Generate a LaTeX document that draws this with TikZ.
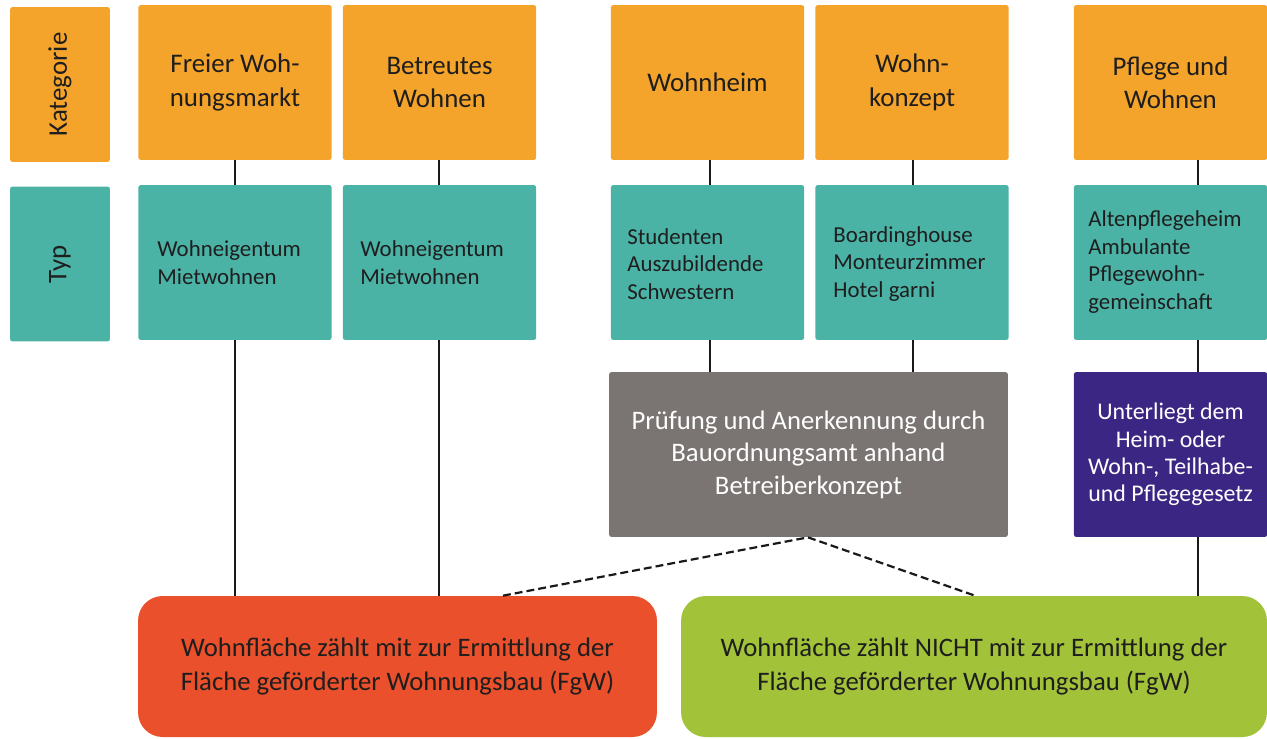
\documentclass[tikz,border=0pt]{standalone}
\usepackage{fontspec}
\setmainfont{Carlito}
\definecolor{korange}{HTML}{F4A32B}
\definecolor{kteal}{HTML}{4BB2A6}
\definecolor{kgray}{HTML}{7A7572}
\definecolor{kpurple}{HTML}{3B2783}
\definecolor{kred}{HTML}{E9502B}
\definecolor{kgreen}{HTML}{A2C23A}
\definecolor{ktext}{HTML}{1E1E1E}
\begin{document}
\begin{tikzpicture}[x=0.02cm,y=-0.02cm,
  base/.style={rectangle, rounded corners=1.5pt, inner sep=0pt, align=center, text=ktext},
  catbox/.style={base, fill=korange, minimum width=3.87cm, minimum height=3.1cm, font=\fontsize{15.3}{19}\selectfont},
  typbox/.style={base, fill=kteal, minimum width=3.87cm, minimum height=3.1cm},
  typtext/.style={align=left, font=\fontsize{13}{15.8}\selectfont, text=ktext, inner sep=0pt, anchor=west},
  sidebox/.style={base, minimum width=2.0cm, minimum height=3.1cm, font=\fontsize{15.3}{19}\selectfont},
  grbox/.style={base, fill=kgray, text=white, minimum width=7.98cm, minimum height=3.3cm, font=\fontsize{15.2}{18.5}\selectfont},
  pubox/.style={base, fill=kpurple, text=white, minimum width=3.87cm, minimum height=3.3cm, font=\fontsize{13.6}{15.6}\selectfont},
  resbox/.style={base, rounded corners=14pt, minimum height=2.82cm, font=\fontsize{15.2}{19.3}\selectfont},
  conn/.style={draw=black!90, line width=1pt},
  dconn/.style={draw=black!90, line width=1.25pt, dash pattern=on 4.5pt off 2.3pt}
]
\useasboundingbox (0,0) rectangle (1267,738);
% side labels
\node[sidebox, fill=korange] (kat) at (60,84.5) {\rotatebox{90}{Kategorie}};
\node[sidebox, fill=kteal] (typ) at (60,264) {\rotatebox{90}{Typ}};
% category row
\node[catbox] (c1) at (235,82.5) {Freier Woh-\\nungsmarkt};
\node[catbox] (c2) at (439.5,82.5) {Betreutes\\Wohnen};
\node[catbox] (c3) at (707.5,82.5) {Wohnheim};
\node[catbox] (c4) at (912,82.5) {Wohn-\\konzept};
\node[catbox] (c5) at (1170.5,82.5) {Pflege und\\Wohnen};
% type row
\node[typbox] (t1) at (235,262.5) {};
\node[typbox] (t2) at (439.5,262.5) {};
\node[typbox] (t3) at (707.5,262.5) {};
\node[typbox] (t4) at (912,262.5) {};
\node[typbox] (t5) at (1170.5,262.5) {};
\node[typtext] (tt1) at (157,263) {Wohneigentum\\Mietwohnen};
\node[typtext] (tt2) at (360,263) {Wohneigentum\\Mietwohnen};
\node[typtext] (tt3) at (627,264) {Studenten\\Auszubildende\\Schwestern};
\node[typtext] (tt4) at (833,264) {Boardinghouse\\Monteurzimmer\\Hotel garni};
\node[typtext] (tt5) at (1088,262) {Altenpflegeheim\\Ambulante\\Pflegewohn-\\gemeinschaft};
% third row
\node[grbox] (g) at (808.5,454.5) {Prüfung und Anerkennung durch\\Bauordnungsamt anhand\\Betreiberkonzept};
\node[pubox] (p) at (1170.5,454.5) {Unterliegt dem\\Heim- oder\\Wohn-, Teilhabe-\\und Pflegegesetz};
% results
\node[resbox, fill=kred, minimum width=10.38cm] (r) at (397.5,666.5) {Wohnfläche zählt mit zur Ermittlung der\\Fläche geförderter Wohnungsbau (FgW)};
\node[resbox, fill=kgreen, minimum width=11.72cm] (gr) at (974,666.5) {Wohnfläche zählt NICHT mit zur Ermittlung der\\Fläche geförderter Wohnungsbau (FgW)};
% x positions of connectors
\coordinate (x1) at (235,0);
\coordinate (x2) at (439,0);
\coordinate (x3) at (710,0);
\coordinate (x4) at (913,0);
\coordinate (x5) at (1198,0);
\coordinate (xl) at (503,0);
\coordinate (xr) at (975,0);
\coordinate (xm) at (808,0);
% connectors
\draw[conn] (c1.south -| x1) -- (t1.north -| x1);
\draw[conn] (c2.south -| x2) -- (t2.north -| x2);
\draw[conn] (c3.south -| x3) -- (t3.north -| x3);
\draw[conn] (c4.south -| x4) -- (t4.north -| x4);
\draw[conn] (c5.south -| x5) -- (t5.north -| x5);
\draw[conn] (t1.south -| x1) -- (r.north -| x1);
\draw[conn] (t2.south -| x2) -- (r.north -| x2);
\draw[conn] (t3.south -| x3) -- (g.north -| x3);
\draw[conn] (t4.south -| x4) -- (g.north -| x4);
\draw[conn] (t5.south -| x5) -- (p.north -| x5);
\draw[conn] (p.south -| x5) -- (gr.north -| x5);
\draw[dconn] (r.north -| xl) -- (g.south -| xm) -- (gr.north -| xr);
\end{tikzpicture}
\end{document}
